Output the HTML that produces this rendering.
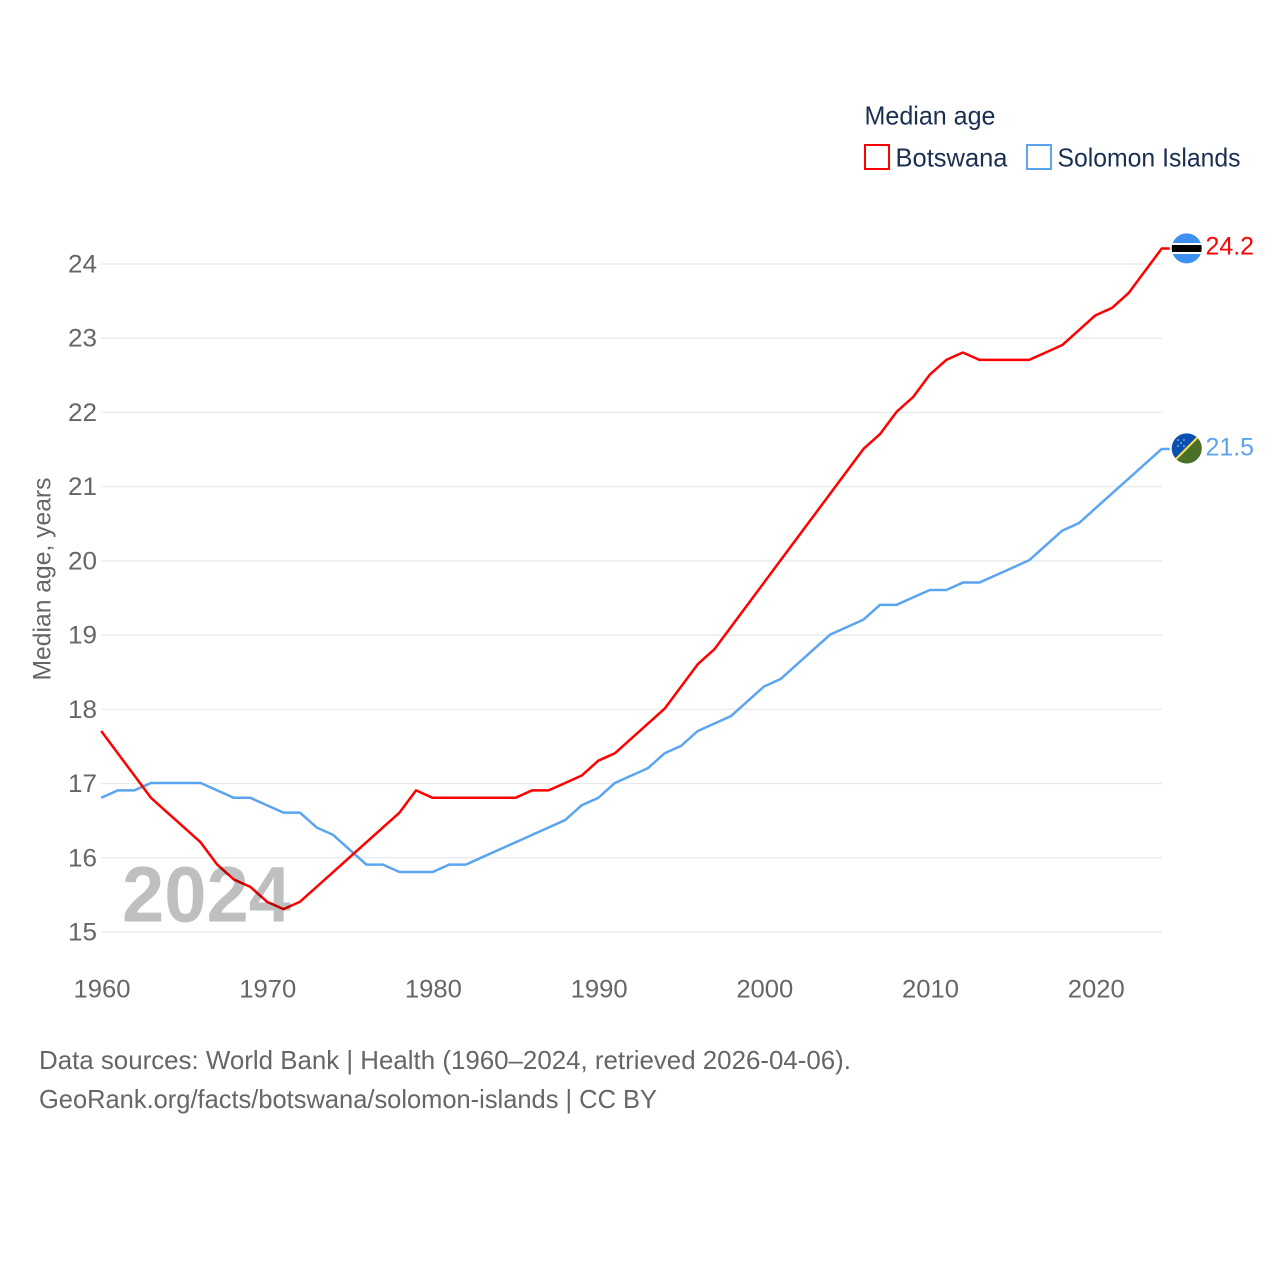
<!DOCTYPE html>
<html lang="en">
<head>
<meta charset="utf-8">
<title>Median age: Botswana and Solomon Islands</title>
<style>
html,body{margin:0;padding:0;background:#fff;}
svg{display:block;}
text{font-family:"Liberation Sans",sans-serif;}
</style>
</head>
<body>
<svg id="chart" xmlns="http://www.w3.org/2000/svg" width="1280" height="1280" viewBox="0 0 1280 1280">
  <rect width="1280" height="1280" fill="#fff"/>
  <g id="grid"></g>
  <g id="yticks"></g>
  <g id="xticks"></g>
  <text transform="translate(50.5,579) rotate(-90)" text-anchor="middle" font-size="25" fill="#666" textLength="203" lengthAdjust="spacingAndGlyphs">Median age, years</text>
  <g id="series" transform="translate(-0.3,-0.6)"></g>
  <text x="122" y="921.5" font-size="79" font-weight="bold" fill="#000" fill-opacity="0.25" textLength="169" lengthAdjust="spacingAndGlyphs">2024</text>

  <g>
    <text x="864.5" y="124.5" font-size="26" fill="#1a3050" textLength="131" lengthAdjust="spacingAndGlyphs">Median age</text>
    <rect x="865" y="145" width="24" height="24" fill="none" stroke="#ff0000" stroke-width="2"/>
    <text x="895.5" y="166.5" font-size="26" fill="#1a3050" textLength="112" lengthAdjust="spacingAndGlyphs">Botswana</text>
    <rect x="1027" y="145" width="24" height="24" fill="none" stroke="#5ba4f0" stroke-width="2"/>
    <text x="1057.5" y="166.5" font-size="26" fill="#1a3050" textLength="183" lengthAdjust="spacingAndGlyphs">Solomon Islands</text>
  </g>

  <defs>
    <clipPath id="flag-clip-bw"><circle cx="1186.7" cy="248.4" r="15"/></clipPath>
    <clipPath id="flag-clip-sb"><circle cx="1186.7" cy="448.4" r="15"/></clipPath>
  </defs>
  <g id="flag-botswana" clip-path="url(#flag-clip-bw)">
    <rect x="1171" y="233" width="32" height="32" fill="#3d8ff0"/>
    <rect x="1171" y="243" width="32" height="11" fill="#fff"/>
    <rect x="1171" y="245" width="32" height="7" fill="#000"/>
  </g>
  <g id="flag-solomon" clip-path="url(#flag-clip-sb)">
    <rect x="1171" y="433" width="32" height="32" fill="#0a50b0"/>
    <polygon points="1202,433 1202,464 1171,464" fill="#4a7028"/>
    <line x1="1171" y1="464" x2="1202" y2="433" stroke="#f5dc50" stroke-width="2.2"/>
    <g fill="#cfe0f5">
      <circle cx="1178" cy="440" r="0.8"/><circle cx="1184" cy="440" r="0.8"/>
      <circle cx="1181" cy="443" r="0.8"/><circle cx="1178" cy="446" r="0.8"/>
      <circle cx="1184" cy="446" r="0.8"/>
    </g>
  </g>
  <text x="1205.5" y="254.5" font-size="25" fill="#ff0000" textLength="48.5" lengthAdjust="spacingAndGlyphs">24.2</text>
  <text x="1205.5" y="455.5" font-size="25" fill="#5ba4f0" textLength="48.5" lengthAdjust="spacingAndGlyphs">21.5</text>

  <text x="39" y="1069" font-size="26" fill="#666" textLength="812" lengthAdjust="spacingAndGlyphs">Data sources: World Bank | Health (1960–2024, retrieved 2026-04-06).</text>
  <text x="39" y="1108" font-size="26" fill="#666" textLength="618" lengthAdjust="spacingAndGlyphs">GeoRank.org/facts/botswana/solomon-islands | CC BY</text>
</svg>
<script>
var startYear = 1960;
var botswanaValues = [17.7,17.4,17.1,16.8,16.6,16.4,16.2,15.9,15.7,15.6,15.4,15.3,15.4,15.6,15.8,16.0,16.2,16.4,16.6,16.9,16.8,16.8,16.8,16.8,16.8,16.8,16.9,16.9,17.0,17.1,17.3,17.4,17.6,17.8,18.0,18.3,18.6,18.8,19.1,19.4,19.7,20.0,20.3,20.6,20.9,21.2,21.5,21.7,22.0,22.2,22.5,22.7,22.8,22.7,22.7,22.7,22.7,22.8,22.9,23.1,23.3,23.4,23.6,23.9,24.2];
var solomonValues = [16.8,16.9,16.9,17.0,17.0,17.0,17.0,16.9,16.8,16.8,16.7,16.6,16.6,16.4,16.3,16.1,15.9,15.9,15.8,15.8,15.8,15.9,15.9,16.0,16.1,16.2,16.3,16.4,16.5,16.7,16.8,17.0,17.1,17.2,17.4,17.5,17.7,17.8,17.9,18.1,18.3,18.4,18.6,18.8,19.0,19.1,19.2,19.4,19.4,19.5,19.6,19.6,19.7,19.7,19.8,19.9,20.0,20.2,20.4,20.5,20.7,20.9,21.1,21.3,21.5];
var yTickValues = [15,16,17,18,19,20,21,22,23,24];
var xTickValues = [1960,1970,1980,1990,2000,2010,2020];

var NS = 'http://www.w3.org/2000/svg';
function xScale(year){ return 101.5 + (year - 1960) * (1162 - 101.5) / 64; }
function yScale(v){ return 932 - (v - 15) * (932 - 264) / 9; }

var grid = document.getElementById('grid');
var yticks = document.getElementById('yticks');
var xticks = document.getElementById('xticks');
var series = document.getElementById('series');

yTickValues.forEach(function(v){
  var line = document.createElementNS(NS, 'line');
  
  
  line.setAttribute('x1', 101.5);
  line.setAttribute('x2', 1162);
  line.setAttribute('y1', yScale(v));
  line.setAttribute('y2', yScale(v));
  line.setAttribute('stroke', '#e8e8e8');
  line.setAttribute('stroke-width', 1.2);
  grid.appendChild(line);

  var t = document.createElementNS(NS, 'text');
  
  
  t.setAttribute('x', 97);
  t.setAttribute('y', yScale(v) + 8.5);
  t.setAttribute('text-anchor', 'end');
  t.setAttribute('font-size', 25);
  t.setAttribute('fill', '#666');
  t.setAttribute('textLength', 29);
  t.setAttribute('lengthAdjust', 'spacingAndGlyphs');
  t.textContent = v;
  yticks.appendChild(t);
});

xTickValues.forEach(function(y){
  var t = document.createElementNS(NS, 'text');
  
  
  t.setAttribute('x', xScale(y) + 0.5);
  t.setAttribute('y', 997.5);
  t.setAttribute('text-anchor', 'middle');
  t.setAttribute('font-size', 25);
  t.setAttribute('fill', '#666');
  t.setAttribute('textLength', 57);
  t.setAttribute('lengthAdjust', 'spacingAndGlyphs');
  t.textContent = y;
  xticks.appendChild(t);
});

function linePoints(values){
  var pts = values.map(function(v, i){ return xScale(startYear + i).toFixed(2) + ',' + yScale(v).toFixed(2); });
  var last = values[values.length - 1];
  pts.push((xScale(startYear + values.length - 1) + 8).toFixed(2) + ',' + yScale(last).toFixed(2));
  return pts.join(' ');
}

var solomonLine = document.createElementNS(NS, 'polyline');


solomonLine.setAttribute('points', linePoints(solomonValues));
solomonLine.setAttribute('fill', 'none');
solomonLine.setAttribute('stroke', '#5ba4f0');
solomonLine.setAttribute('stroke-width', 2.5);
solomonLine.setAttribute('stroke-linejoin', 'round');
series.appendChild(solomonLine);

var botswanaLine = document.createElementNS(NS, 'polyline');


botswanaLine.setAttribute('points', linePoints(botswanaValues));
botswanaLine.setAttribute('fill', 'none');
botswanaLine.setAttribute('stroke', '#ff0000');
botswanaLine.setAttribute('stroke-width', 2.5);
botswanaLine.setAttribute('stroke-linejoin', 'round');
series.appendChild(botswanaLine);
</script>
</body>
</html>
